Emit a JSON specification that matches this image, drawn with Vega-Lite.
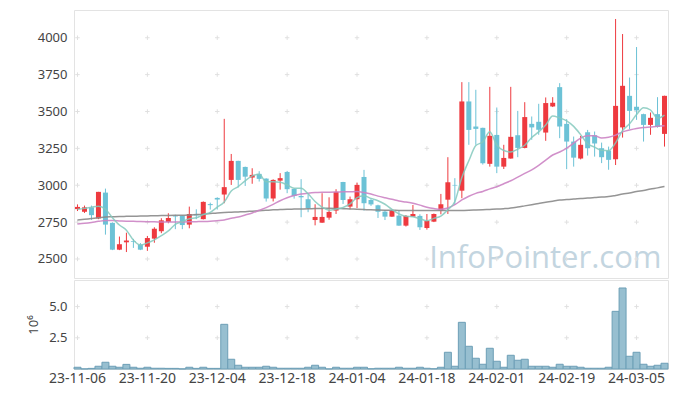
{
  "$schema": "https://vega.github.io/schema/vega-lite/v6.json",
  "padding": {"left": 27, "top": 9, "right": 5, "bottom": 5},
  "spacing": 0,
  "config": {
    "view": {"stroke": "#e3e3e3"},
    "axis": {"labelFont": "Noto Sans", "titleFont": "Noto Sans", "labelColor": "#444", "titleColor": "#444"}
  },
  "datasets": {
    "k": [
      {"d":"23-11-06","o":2838,"h":2870,"l":2825,"c":2853,"v":140000,"m5":2837,"m20":2737,"m60":2764},
      {"d":"23-11-07","o":2820,"h":2862,"l":2812,"c":2850,"v":10000,"m5":2843,"m20":2742,"m60":2769},
      {"d":"23-11-08","o":2850,"h":2862,"l":2765,"c":2797,"v":50000,"m5":2851,"m20":2748,"m60":2774},
      {"d":"23-11-09","o":2775,"h":2955,"l":2770,"c":2955,"v":220000,"m5":2858,"m20":2755,"m60":2779},
      {"d":"23-11-10","o":2950,"h":2977,"l":2665,"c":2733,"v":540000,"m5":2838,"m20":2760,"m60":2784},
      {"d":"23-11-13","o":2745,"h":2748,"l":2560,"c":2563,"v":220000,"m5":2780,"m20":2760,"m60":2786},
      {"d":"23-11-14","o":2563,"h":2652,"l":2560,"c":2600,"v":140000,"m5":2730,"m20":2758,"m60":2788},
      {"d":"23-11-15","o":2613,"h":2678,"l":2547,"c":2625,"v":370000,"m5":2695,"m20":2756,"m60":2789},
      {"d":"23-11-16","o":2622,"h":2636,"l":2575,"c":2617,"v":140000,"m5":2628,"m20":2755,"m60":2790},
      {"d":"23-11-17","o":2598,"h":2608,"l":2560,"c":2563,"v":60000,"m5":2594,"m20":2754,"m60":2791},
      {"d":"23-11-20","o":2583,"h":2656,"l":2555,"c":2642,"v":140000,"m5":2609,"m20":2753,"m60":2792},
      {"d":"23-11-21","o":2638,"h":2715,"l":2610,"c":2705,"v":60000,"m5":2630,"m20":2752,"m60":2793},
      {"d":"23-11-22","o":2688,"h":2776,"l":2675,"c":2762,"v":60000,"m5":2658,"m20":2751,"m60":2794},
      {"d":"23-11-23","o":2751,"h":2810,"l":2742,"c":2778,"v":50000,"m5":2690,"m20":2750,"m60":2795},
      {"d":"23-11-24","o":2792,"h":2800,"l":2702,"c":2788,"v":50000,"m5":2735,"m20":2750,"m60":2796},
      {"d":"23-11-27","o":2792,"h":2795,"l":2702,"c":2730,"v":10000,"m5":2753,"m20":2751,"m60":2797},
      {"d":"23-11-28","o":2733,"h":2855,"l":2708,"c":2805,"v":140000,"m5":2773,"m20":2752,"m60":2798},
      {"d":"23-11-29","o":2803,"h":2837,"l":2770,"c":2795,"v":50000,"m5":2779,"m20":2753,"m60":2801},
      {"d":"23-11-30","o":2770,"h":2890,"l":2768,"c":2887,"v":140000,"m5":2801,"m20":2754,"m60":2804},
      {"d":"23-12-01","o":2872,"h":2882,"l":2835,"c":2865,"v":50000,"m5":2816,"m20":2756,"m60":2808},
      {"d":"23-12-04","o":2914,"h":2918,"l":2835,"c":2903,"v":50000,"m5":2851,"m20":2760,"m60":2812},
      {"d":"23-12-05","o":2937,"h":3450,"l":2878,"c":2987,"v":3580000,"m5":2887,"m20":2765,"m60":2815},
      {"d":"23-12-06","o":3036,"h":3212,"l":3002,"c":3165,"v":780000,"m5":2961,"m20":2776,"m60":2817},
      {"d":"23-12-07","o":3165,"h":3166,"l":2985,"c":3036,"v":300000,"m5":2991,"m20":2785,"m60":2819},
      {"d":"23-12-08","o":3124,"h":3126,"l":2995,"c":3058,"v":140000,"m5":3030,"m20":2798,"m60":2821},
      {"d":"23-12-11","o":3052,"h":3115,"l":3010,"c":3070,"v":140000,"m5":3063,"m20":2812,"m60":2824},
      {"d":"23-12-12","o":3077,"h":3095,"l":3025,"c":3043,"v":140000,"m5":3074,"m20":2830,"m60":2827},
      {"d":"23-12-13","o":3045,"h":3047,"l":2889,"c":2910,"v":220000,"m5":3023,"m20":2848,"m60":2830},
      {"d":"23-12-14","o":2910,"h":3040,"l":2890,"c":3036,"v":140000,"m5":3023,"m20":2870,"m60":2833},
      {"d":"23-12-15","o":3031,"h":3082,"l":2970,"c":3048,"v":60000,"m5":3021,"m20":2895,"m60":2835},
      {"d":"23-12-18","o":3090,"h":3097,"l":2946,"c":2973,"v":60000,"m5":3002,"m20":2915,"m60":2837},
      {"d":"23-12-19","o":2975,"h":2977,"l":2909,"c":2927,"v":60000,"m5":2979,"m20":2930,"m60":2838},
      {"d":"23-12-20","o":2927,"h":3041,"l":2783,"c":2918,"v":60000,"m5":2980,"m20":2940,"m60":2839},
      {"d":"23-12-21","o":2905,"h":2939,"l":2817,"c":2845,"v":140000,"m5":2942,"m20":2946,"m60":2840},
      {"d":"23-12-22","o":2764,"h":2871,"l":2728,"c":2785,"v":300000,"m5":2890,"m20":2950,"m60":2842},
      {"d":"23-12-26","o":2746,"h":2946,"l":2745,"c":2785,"v":140000,"m5":2852,"m20":2952,"m60":2843},
      {"d":"23-12-27","o":2780,"h":2918,"l":2766,"c":2819,"v":10000,"m5":2830,"m20":2953,"m60":2844},
      {"d":"23-12-28","o":2828,"h":2973,"l":2805,"c":2955,"v":140000,"m5":2838,"m20":2954,"m60":2843},
      {"d":"24-01-02","o":3022,"h":3023,"l":2873,"c":2900,"v":60000,"m5":2849,"m20":2955,"m60":2841},
      {"d":"24-01-03","o":2855,"h":2923,"l":2837,"c":2905,"v":60000,"m5":2873,"m20":2956,"m60":2839},
      {"d":"24-01-04","o":2905,"h":3018,"l":2845,"c":3002,"v":140000,"m5":2916,"m20":2957,"m60":2837},
      {"d":"24-01-05","o":3056,"h":3104,"l":2828,"c":2878,"v":140000,"m5":2928,"m20":2950,"m60":2835},
      {"d":"24-01-08","o":2900,"h":2910,"l":2860,"c":2870,"v":20000,"m5":2911,"m20":2940,"m60":2833},
      {"d":"24-01-09","o":2864,"h":2868,"l":2778,"c":2820,"v":60000,"m5":2895,"m20":2926,"m60":2832},
      {"d":"24-01-10","o":2821,"h":2832,"l":2764,"c":2787,"v":60000,"m5":2871,"m20":2915,"m60":2831},
      {"d":"24-01-11","o":2787,"h":2830,"l":2785,"c":2825,"v":60000,"m5":2836,"m20":2905,"m60":2830},
      {"d":"24-01-12","o":2794,"h":2828,"l":2725,"c":2726,"v":140000,"m5":2806,"m20":2893,"m60":2829},
      {"d":"24-01-15","o":2726,"h":2798,"l":2720,"c":2792,"v":60000,"m5":2790,"m20":2886,"m60":2828},
      {"d":"24-01-16","o":2787,"h":2866,"l":2785,"c":2805,"v":60000,"m5":2787,"m20":2878,"m60":2828},
      {"d":"24-01-17","o":2792,"h":2803,"l":2697,"c":2715,"v":140000,"m5":2773,"m20":2865,"m60":2828},
      {"d":"24-01-18","o":2710,"h":2805,"l":2699,"c":2758,"v":60000,"m5":2759,"m20":2851,"m60":2828},
      {"d":"24-01-19","o":2753,"h":2808,"l":2750,"c":2805,"v":20000,"m5":2775,"m20":2842,"m60":2828},
      {"d":"24-01-22","o":2828,"h":2941,"l":2803,"c":2871,"v":140000,"m5":2791,"m20":2837,"m60":2828},
      {"d":"24-01-23","o":2902,"h":3190,"l":2805,"c":3020,"v":1340000,"m5":2834,"m20":2845,"m60":2828},
      {"d":"24-01-24","o":3002,"h":3048,"l":2866,"c":2998,"v":220000,"m5":2890,"m20":2868,"m60":2828},
      {"d":"24-01-25","o":2963,"h":3699,"l":2912,"c":3568,"v":3740000,"m5":3052,"m20":2900,"m60":2829},
      {"d":"24-01-26","o":3568,"h":3699,"l":3274,"c":3375,"v":1820000,"m5":3166,"m20":2925,"m60":2830},
      {"d":"24-01-29","o":3398,"h":3647,"l":3274,"c":3382,"v":860000,"m5":3269,"m20":2945,"m60":2832},
      {"d":"24-01-30","o":3389,"h":3390,"l":3140,"c":3149,"v":380000,"m5":3294,"m20":2958,"m60":2834},
      {"d":"24-01-31","o":3145,"h":3667,"l":3126,"c":3335,"v":1660000,"m5":3362,"m20":2975,"m60":2836},
      {"d":"24-02-01","o":3341,"h":3527,"l":3082,"c":3126,"v":620000,"m5":3273,"m20":2990,"m60":2838},
      {"d":"24-02-02","o":3126,"h":3274,"l":3110,"c":3185,"v":140000,"m5":3235,"m20":3010,"m60":2841},
      {"d":"24-02-05","o":3181,"h":3667,"l":3180,"c":3328,"v":1100000,"m5":3225,"m20":3030,"m60":2845},
      {"d":"24-02-06","o":3339,"h":3504,"l":3190,"c":3253,"v":700000,"m5":3245,"m20":3055,"m60":2852},
      {"d":"24-02-07","o":3253,"h":3563,"l":3250,"c":3462,"v":780000,"m5":3271,"m20":3080,"m60":2860},
      {"d":"24-02-08","o":3416,"h":3466,"l":3308,"c":3392,"v":220000,"m5":3324,"m20":3104,"m60":2868},
      {"d":"24-02-13","o":3430,"h":3552,"l":3342,"c":3376,"v":220000,"m5":3362,"m20":3135,"m60":2876},
      {"d":"24-02-14","o":3357,"h":3595,"l":3301,"c":3557,"v":220000,"m5":3408,"m20":3170,"m60":2884},
      {"d":"24-02-15","o":3534,"h":3597,"l":3530,"c":3559,"v":140000,"m5":3469,"m20":3205,"m60":2892},
      {"d":"24-02-16","o":3665,"h":3692,"l":3319,"c":3398,"v":380000,"m5":3456,"m20":3225,"m60":2900},
      {"d":"24-02-19","o":3416,"h":3448,"l":3109,"c":3296,"v":220000,"m5":3437,"m20":3251,"m60":2903},
      {"d":"24-02-20","o":3296,"h":3330,"l":3126,"c":3187,"v":220000,"m5":3399,"m20":3285,"m60":2906},
      {"d":"24-02-21","o":3181,"h":3335,"l":3175,"c":3274,"v":140000,"m5":3343,"m20":3319,"m60":2910},
      {"d":"24-02-22","o":3360,"h":3375,"l":3201,"c":3251,"v":60000,"m5":3281,"m20":3335,"m60":2913},
      {"d":"24-02-23","o":3339,"h":3364,"l":3194,"c":3283,"v":60000,"m5":3258,"m20":3335,"m60":2916},
      {"d":"24-02-26","o":3251,"h":3289,"l":3150,"c":3190,"v":60000,"m5":3237,"m20":3320,"m60":2920},
      {"d":"24-02-27","o":3235,"h":3262,"l":3105,"c":3172,"v":140000,"m5":3234,"m20":3325,"m60":2923},
      {"d":"24-02-28","o":3176,"h":4127,"l":3137,"c":3538,"v":4620000,"m5":3287,"m20":3340,"m60":2931},
      {"d":"24-02-29","o":3392,"h":4025,"l":3323,"c":3674,"v":6490000,"m5":3371,"m20":3362,"m60":2940},
      {"d":"24-03-04","o":3606,"h":3730,"l":3380,"c":3504,"v":1020000,"m5":3416,"m20":3375,"m60":2948},
      {"d":"24-03-05","o":3532,"h":3937,"l":3443,"c":3507,"v":1340000,"m5":3479,"m20":3385,"m60":2957},
      {"d":"24-03-06","o":3482,"h":3485,"l":3296,"c":3409,"v":380000,"m5":3526,"m20":3391,"m60":2965},
      {"d":"24-03-07","o":3409,"h":3493,"l":3342,"c":3457,"v":220000,"m5":3510,"m20":3395,"m60":2974},
      {"d":"24-03-08","o":3482,"h":3597,"l":3390,"c":3395,"v":300000,"m5":3454,"m20":3400,"m60":2982},
      {"d":"24-03-11","o":3348,"h":3607,"l":3262,"c":3606,"v":460000,"m5":3475,"m20":3403,"m60":2991}
    ],
    "ticksTop": [
      {"d":"23-11-06","y":[2500,2750,3000,3250,3500,3750,4000]},
      {"d":"23-11-20","y":[2500,2750,3000,3250,3500,3750,4000]},
      {"d":"23-12-04","y":[2500,2750,3000,3250,3500,3750,4000]},
      {"d":"23-12-18","y":[2500,2750,3000,3250,3500,3750,4000]},
      {"d":"24-01-04","y":[2500,2750,3000,3250,3500,3750,4000]},
      {"d":"24-01-18","y":[2500,2750,3000,3250,3500,3750,4000]},
      {"d":"24-02-01","y":[2500,2750,3000,3250,3500,3750,4000]},
      {"d":"24-02-19","y":[2500,2750,3000,3250,3500,3750,4000]},
      {"d":"24-03-05","y":[2500,2750,3000,3250,3500,3750,4000]}
    ],
    "ticksBottom": [
      {"d":"23-11-06","y":[2500000,5000000]},
      {"d":"23-11-20","y":[2500000,5000000]},
      {"d":"23-12-04","y":[2500000,5000000]},
      {"d":"23-12-18","y":[2500000,5000000]},
      {"d":"24-01-04","y":[2500000,5000000]},
      {"d":"24-01-18","y":[2500000,5000000]},
      {"d":"24-02-01","y":[2500000,5000000]},
      {"d":"24-02-19","y":[2500000,5000000]},
      {"d":"24-03-05","y":[2500000,5000000]}
    ]
  },
  "vconcat": [
    {
      "width": 594,
      "height": 268,
      "layer": [
        {
          "data": {"values": [{}]},
          "mark": {"type": "text", "text": "InfoPointer.com", "font": "Open Sans", "fontSize": 31, "color": "#c3d5e0", "align": "right", "baseline": "alphabetic", "dx": -3},
          "encoding": {
            "x": {"datum": "24-03-11", "type": "ordinal", "scale": {"paddingInner": 0, "paddingOuter": 0}, "axis": null},
            "y": {"datum": 2439, "type": "quantitative", "scale": {"domain": [2371, 4188], "nice": false, "zero": false}}
          }
        },
        {
          "data": {"name": "ticksTop"},
          "transform": [{"flatten": ["y"]}],
          "mark": {"type": "point", "shape": "M-1,0H1M0,-1V1", "size": 20, "stroke": "#e0e0e0", "strokeWidth": 1, "filled": false, "opacity": 1},
          "encoding": {
            "x": {"field": "d", "type": "ordinal", "axis": null},
            "y": {"field": "y", "type": "quantitative"}
          }
        },
        {
          "data": {"name": "k"},
          "mark": {"type": "rule", "strokeWidth": 1},
          "encoding": {
            "x": {"field": "d", "type": "ordinal", "axis": null},
            "y": {"field": "l", "type": "quantitative"},
            "y2": {"field": "h"},
            "color": {"condition": {"test": "datum.c > datum.o", "value": "#ee3a3f"}, "value": "#6cc2d6"}
          }
        },
        {
          "data": {"name": "k"},
          "mark": {"type": "bar", "width": 5},
          "encoding": {
            "x": {"field": "d", "type": "ordinal", "axis": null},
            "y": {"field": "o", "type": "quantitative"},
            "y2": {"field": "c"},
            "color": {"condition": {"test": "datum.c > datum.o", "value": "#ee3a3f"}, "value": "#6cc2d6"}
          }
        },
        {
          "data": {"name": "k"},
          "mark": {"type": "line", "color": "#8a8a8a", "strokeWidth": 1.5, "interpolate": "monotone", "opacity": 0.9},
          "encoding": {
            "x": {"field": "d", "type": "ordinal", "axis": null},
            "y": {"field": "m60", "type": "quantitative"}
          }
        },
        {
          "data": {"name": "k"},
          "mark": {"type": "line", "color": "#cc84c4", "strokeWidth": 1.5, "interpolate": "monotone", "opacity": 0.9},
          "encoding": {
            "x": {"field": "d", "type": "ordinal", "axis": null},
            "y": {"field": "m20", "type": "quantitative"}
          }
        },
        {
          "data": {"name": "k"},
          "mark": {"type": "line", "color": "#84c9bd", "strokeWidth": 1.5, "interpolate": "monotone", "opacity": 0.85},
          "encoding": {
            "x": {"field": "d", "type": "ordinal", "axis": null},
            "y": {"field": "m5", "type": "quantitative", "axis": {"values": [2500, 2750, 3000, 3250, 3500, 3750, 4000], "format": "d", "grid": false, "ticks": false, "domain": false, "labelPadding": 7, "labelFontSize": 13, "title": null}}
          }
        }
      ]
    },
    {
      "width": 594,
      "height": 89,
      "layer": [
        {
          "data": {"name": "ticksBottom"},
          "transform": [{"flatten": ["y"]}],
          "mark": {"type": "point", "shape": "M-1,0H1M0,-1V1", "size": 20, "stroke": "#e0e0e0", "strokeWidth": 1, "filled": false, "opacity": 1},
          "encoding": {
            "x": {"field": "d", "type": "ordinal", "scale": {"paddingInner": 0, "paddingOuter": 0}},
            "y": {"field": "y", "type": "quantitative", "scale": {"domain": [0, 7130000], "nice": false}}
          }
        },
        {
          "data": {"name": "k"},
          "mark": {"type": "bar", "fill": "#97bfd0", "stroke": "#6d9fb6", "strokeWidth": 1},
          "encoding": {
            "x": {"field": "d", "type": "ordinal", "axis": {"values": ["23-11-06", "23-11-20", "23-12-04", "23-12-18", "24-01-04", "24-01-18", "24-02-01", "24-02-19", "24-03-05"], "labelAngle": 0, "labelAlign": "center", "labelBaseline": "top", "ticks": false, "domain": false, "labelFontSize": 14, "labelPadding": 2, "title": null}},
            "y": {"field": "v", "type": "quantitative", "axis": {"values": [2500000, 5000000], "labelExpr": "format(datum.value / 1000000, '.1f')", "grid": false, "ticks": false, "domain": false, "labelPadding": 7, "labelFontSize": 13, "title": "10⁶", "titleFontSize": 13, "titleFontWeight": "normal", "titlePadding": 8}}
          }
        }
      ]
    }
  ]
}
